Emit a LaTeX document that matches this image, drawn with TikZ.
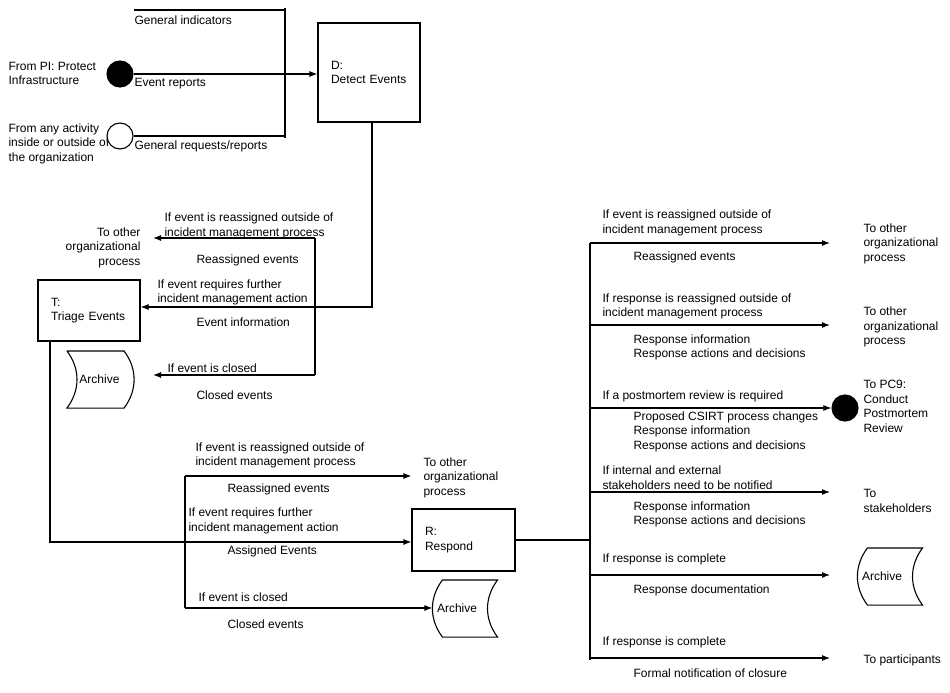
\documentclass[tikz,border=0pt]{standalone}
\usepackage{fontspec}
\setmainfont{Liberation Sans}
\usetikzlibrary{positioning,arrows.meta}

\begin{document}
\begin{tikzpicture}[x=1pt,y=-1pt,line width=1.1pt,>={Latex[length=8pt,width=6pt]},
    every node/.style={font=\fontsize{12}{14.6}\selectfont},
    block/.style={rectangle,draw,align=left,inner xsep=13pt},
    txt/.style={inner sep=0pt,align=left,anchor=west,yshift=-1.5pt},
    archive/.style={minimum width=64pt,minimum height=56pt,inner sep=0pt,text width=56pt,align=left},
    dot/.style={circle,draw,fill=black,minimum size=26pt,inner sep=0pt},
    hole/.style={circle,draw,fill=white,minimum size=26pt,inner sep=0pt},
    arrow/.style={black,->}]
    \useasboundingbox (0,0) rectangle (950,693);

    % D: detect events
    \node[block,text width=76pt,minimum height=99pt](detect) at (369,72.5)
    {D:\\Detect Events};
    \node[txt](pitxt) at (8,72) {From PI: Protect\\Infrastructure};
    \node[dot](pi) at (120,74) {};
    \node[txt](anytxt) at (8,142) {From any activity\\inside or outside of\\the organization};
    \node[hole](any) at (120,136) {};
    \node[txt](gind) at (134,19) {General indicators};
    \node[txt](evrep) at (134,82) {Event reports};
    \node[txt](genreq) at (134,145) {General requests/reports};

    \coordinate (bartop) at (285,8);
    \coordinate (barbot) at (285,138);
    \coordinate (indstart) at (134,10);
    \draw (bartop) -- (barbot);
    \draw (indstart) -- (indstart -| bartop);
    \draw (any.east) -- (any.east -| barbot);
    \draw[arrow] (pi.east) -- (pi.east -| detect.west);

    % T: triage events
    \node[block,text width=76pt,minimum height=61pt](triage) at (89,310.5)
    {T:\\Triage Events};
    \coordinate (dt) at (372,307);
    \draw[arrow] (detect.south -| dt) -- (dt) -- (dt -| triage.east);

    \coordinate (tb1) at (315,238);
    \coordinate (tb2) at (315,375);
    \coordinate (tend) at (153,238);
    \draw (tb1) -- (tb2);
    \draw[arrow] (tb1) -- (tend);
    \draw[arrow] (tb2) -- (tb2 -| tend);

    \node[txt,anchor=east,align=right](torg1) at (141,246) {To other\\organizational\\process};
    \node[txt](tif1) at (164,224.5) {If event is reassigned outside of\\incident management process};
    \node[txt](tre1) at (196,259) {Reassigned events};
    \node[txt](tif2) at (157,291) {If event requires further\\incident management action};
    \node[txt](tinfo) at (196,321) {Event information};
    \node[txt](tif3) at (167,367) {If event is closed};
    \node[txt](tclo) at (196,394) {Closed events};

    \node[archive,align=center](arch1) at (99.5,379.5) {Archive};
    \draw (arch1.north west) -- ([xshift=-8pt]arch1.north east)
      to[bend left=37] ([xshift=-8pt]arch1.south east) -- (arch1.south west)
      to[bend right=37] (arch1.north west);

    % R: respond
    \node[block,text width=77pt,minimum height=62pt](respond) at (463.5,540)
    {R:\\Respond};
    \coordinate (tr) at (50,542);
    \draw[arrow] (triage.south -| tr) -- (tr) -- (tr -| respond.west);

    \node[archive](arch2) at (465,608.5) {Archive};
    \draw ([xshift=10pt]arch2.north west) -- (arch2.north east)
      to[bend right=37] (arch2.south east) -- ([xshift=10pt]arch2.south west)
      to[bend left=37] ([xshift=10pt]arch2.north west);

    \coordinate (mb1) at (185,476);
    \coordinate (mb2) at (185,608);
    \draw (mb1) -- (mb2);
    \draw[arrow] (mb1) -- (mb1 -| respond.west);
    \draw[arrow] (mb2) -- (mb2 -| arch2.west);

    \node[txt](torg2) at (423,476) {To other\\organizational\\process};
    \node[txt](mif1) at (195,454) {If event is reassigned outside of\\incident management process};
    \node[txt](mre1) at (227,488) {Reassigned events};
    \node[txt](mif2) at (188,519.5) {If event requires further\\incident management action};
    \node[txt](masg) at (227,550) {Assigned Events};
    \node[txt](mif3) at (198,596) {If event is closed};
    \node[txt](mclo) at (227,623) {Closed events};

    % outputs of respond
    \coordinate (bus) at (590,542);
    \coordinate (bustop) at (590,243);
    \coordinate (busbot) at (590,660);
    \draw (respond.east) -- (respond.east -| bus);
    \draw (bustop) -- (busbot);
    \foreach \y [count=\i] in {243,325,408,492,575,658} {
      \coordinate (s\i) at (590,\y);
      \coordinate (f\i) at (830,\y);
    }

    \node[dot](pc9) at (845,408) {};
    \node[archive](arch3) at (890,576.5) {Archive};
    \draw ([xshift=10pt]arch3.north west) -- (arch3.north east)
      to[bend right=37] (arch3.south east) -- ([xshift=10pt]arch3.south west)
      to[bend left=37] ([xshift=10pt]arch3.north west);

    \foreach \i in {1,2,4,5,6}
      \draw[arrow] (s\i) -- (f\i);
    \draw[arrow] (s3) -- (pc9.west);

    \node[txt](rif1) at (602,221.5) {If event is reassigned outside of\\incident management process};
    \node[txt](rre1) at (633,256) {Reassigned events};
    \node[txt](rorg1) at (863,242) {To other\\organizational\\process};
    \node[txt](rif2) at (602,305) {If response is reassigned outside of\\incident management process};
    \node[txt](rinfo2) at (633,346) {Response information\\Response actions and decisions};
    \node[txt](rorg2) at (863,325.5) {To other\\organizational\\process};
    \node[txt](rif3) at (602,395) {If a postmortem review is required};
    \node[txt](rinfo3) at (633,430) {Proposed CSIRT process changes\\Response information\\Response actions and decisions};
    \node[txt](rpc9) at (863,405) {To PC9:\\Conduct\\Postmortem\\Review};
    \node[txt](rif4) at (602,476) {If internal and external\\stakeholders need to be notified};
    \node[txt](rinfo4) at (633,513) {Response information\\Response actions and decisions};
    \node[txt](rstake) at (863,499.5) {To\\stakeholders};
    \node[txt](rif5) at (602,558) {If response is complete};
    \node[txt](rdoc) at (633,589) {Response documentation};
    \node[txt](rif6) at (602,641) {If response is complete};
    \node[txt](rnote) at (633,672) {Formal notification of closure};
    \node[txt](rpart) at (863,659) {To participants};
\end{tikzpicture}
\end{document}
